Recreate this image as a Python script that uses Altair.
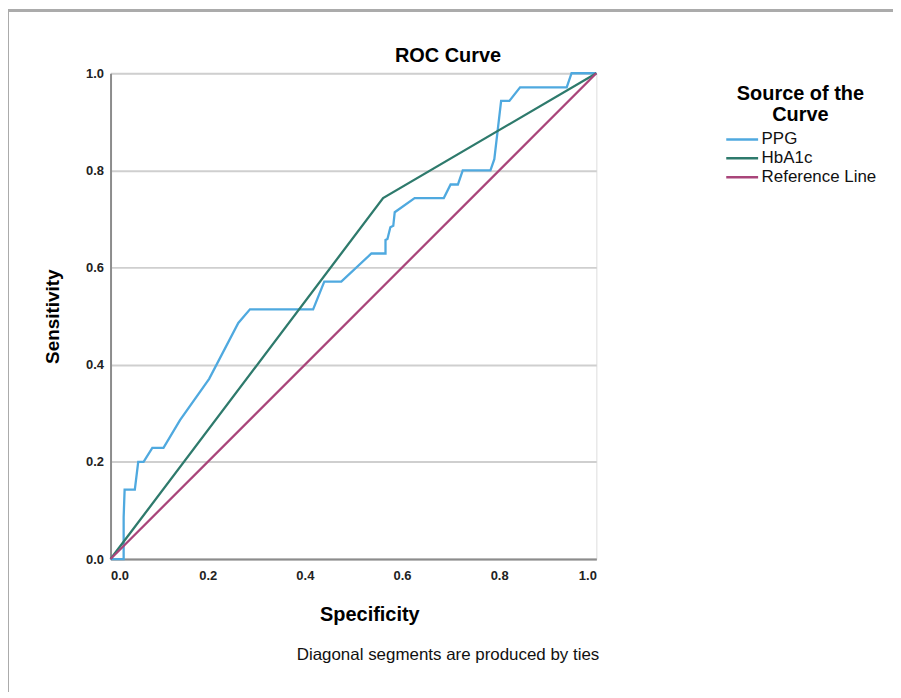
import altair as alt
import pandas as pd

# ---- data ----
ppg_spec = [0.000, 0.027, 0.027, 0.029, 0.050, 0.057, 0.068, 0.086, 0.109, 0.143,
            0.203, 0.263, 0.287, 0.417, 0.440, 0.475, 0.537, 0.566, 0.566, 0.570,
            0.576, 0.582, 0.585, 0.626, 0.686, 0.700, 0.715, 0.725, 0.782, 0.790,
            0.804, 0.821, 0.843, 0.939, 0.949, 1.000]
ppg_sens = [0.000, 0.000, 0.086, 0.143, 0.143, 0.200, 0.200, 0.229, 0.229, 0.286,
            0.371, 0.486, 0.514, 0.514, 0.571, 0.571, 0.629, 0.629, 0.657, 0.659,
            0.683, 0.686, 0.714, 0.743, 0.743, 0.771, 0.771, 0.800, 0.800, 0.823,
            0.943, 0.943, 0.971, 0.971, 1.000, 1.000]
hba_spec = [0.0, 0.561, 1.0]
hba_sens = [0.0, 0.743, 1.0]
ref_spec = [0.0, 1.0]
ref_sens = [0.0, 1.0]

series_names = ["PPG", "HbA1c", "Reference Line"]
series_colors = ["#4FA9DF", "#2E7A6C", "#A9457A"]
tick_vals = [0.0, 0.2, 0.4, 0.6, 0.8, 1.0]
chart_title = "ROC Curve"
footnote_text = "Diagonal segments are produced by ties"

rows = []
for name, xs, ys in [("PPG", ppg_spec, ppg_sens),
                     ("HbA1c", hba_spec, hba_sens),
                     ("Reference Line", ref_spec, ref_sens)]:
    for i, (a, b) in enumerate(zip(xs, ys)):
        rows.append({"series": name, "spec": a, "sens": b, "idx": i})
df = pd.DataFrame(rows)

FONT = "Liberation Sans"

lines = alt.Chart(df).mark_line(strokeWidth=2.3).encode(
    x=alt.X("spec:Q", scale=alt.Scale(domain=[0, 1], nice=False),
            axis=alt.Axis(title="Specificity", values=tick_vals, format=".1f",
                          grid=False, ticks=False, labelPadding=11,
                          labelFont=FONT, labelFontSize=13, labelFontWeight="bold",
                          labelColor="#222222",
                          titleFont=FONT, titleFontSize=20, titleFontWeight="bold",
                          titleColor="#000000", titlePadding=22, titleX=260,
                          domainColor="#8C8C8C", domainWidth=2)),
    y=alt.Y("sens:Q", scale=alt.Scale(domain=[0, 1], nice=False),
            axis=alt.Axis(title="Sensitivity", values=tick_vals, format=".1f",
                          grid=True, gridColor="#CFCFCF", gridWidth=2,
                          ticks=False, labelPadding=7,
                          labelFont=FONT, labelFontSize=13, labelFontWeight="bold",
                          labelColor="#222222",
                          titleFont=FONT, titleFontSize=19, titleFontWeight="bold",
                          titleColor="#000000", titlePadding=23,
                          domainColor="#8C8C8C", domainWidth=2)),
    color=alt.Color("series:N",
                    scale=alt.Scale(domain=series_names, range=series_colors),
                    sort=series_names,
                    legend=alt.Legend(title=["Source of the", "Curve"],
                                      orient="none", legendX=617, legendY=11,
                                      titleFont=FONT, titleFontSize=20,
                                      titleFontWeight="bold", titleColor="#000000",
                                      titleAnchor="middle", titleAlign="center",
                                      titleLineHeight=21, titlePadding=6,
                                      labelFont=FONT, labelFontSize=17,
                                      labelColor="#111111", labelOffset=2,
                                      symbolType="stroke", symbolSize=1024,
                                      symbolStrokeWidth=2.5, rowPadding=1,
                                      clipHeight=17)),
    order="idx:Q",
)

border_top = alt.Chart(df).mark_rule(color="#ABABAB", strokeWidth=3).encode(
    x=alt.value(-105), x2=alt.value(800), y=alt.value(-63))
border_left = alt.Chart(df).mark_rule(color="#ABABAB", strokeWidth=3).encode(
    x=alt.value(-104), y=alt.value(-64), y2=alt.value(640))

title_mark = alt.Chart(pd.DataFrame({"t": [chart_title]})).mark_text(
    align="center", baseline="alphabetic", font=FONT, fontSize=20,
    fontWeight="bold", color="#000000").encode(
    x=alt.value(339), y=alt.value(-11), text="t:N")

footnote = alt.Chart(pd.DataFrame({"t": [footnote_text]})).mark_text(
    align="right", baseline="middle", font=FONT, fontSize=17,
    color="#111111").encode(x=alt.value(491), y=alt.value(584), text="t:N")

chart = alt.layer(border_top, border_left, lines, title_mark, footnote).properties(
    width=488, height=488,
    autosize=alt.AutoSizeParams(type="none"),
    padding={"left": 103, "top": 64, "right": 298, "bottom": 132},
).configure_view(stroke=None).configure(background="white")

chart.save("out.html", embed_options={"renderer": "svg", "actions": False})
